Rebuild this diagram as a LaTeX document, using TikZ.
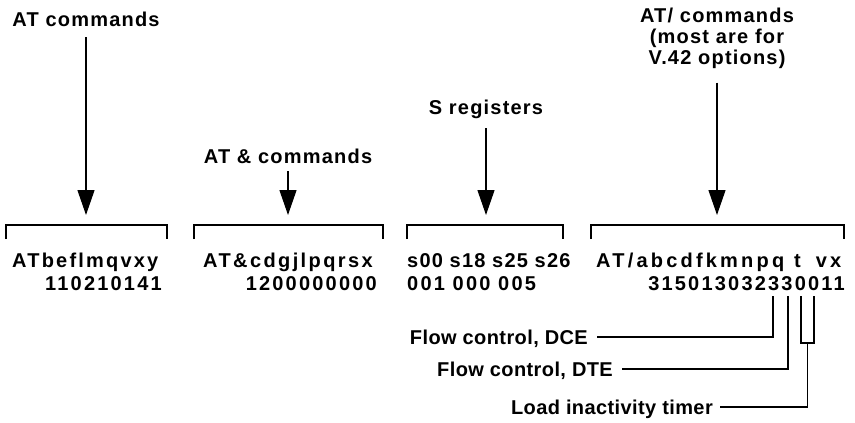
\documentclass[tikz,border=0pt]{standalone}
\usepackage{fontspec}
\setmainfont{Liberation Sans}
\usetikzlibrary{arrows.meta}

\tikzset{
  lbl/.style={font=\fontsize{20}{21}\selectfont\bfseries\addfontfeature{LetterSpace=6},
              inner sep=0pt, align=center},
  reg/.style={font=\fontsize{20}{21}\selectfont\bfseries\addfontfeature{LetterSpace=#1},
              inner sep=0pt},
  reg/.default=11,
  note/.style={font=\fontsize{20}{21}\selectfont\bfseries\addfontfeature{LetterSpace=2},
               inner sep=0pt, text height=14pt, text depth=0pt},
  arr/.style={->, line width=1.2pt},
  brk/.style={line width=1.1pt},
  ldr/.style={line width=1.1pt}
}

\begin{document}
\begin{tikzpicture}[x=1pt,y=-1pt,>={Triangle[length=25pt,width=17pt]}]
        \useasboundingbox (0,0) rectangle (855,423);

        % the four headings
        \node[lbl,anchor=base] (atcmd) at (86,27) {AT commands};
        \node[lbl,anchor=base] (ampcmd) at (288,163) {AT \& commands};
        \node[lbl,anchor=base] (sreg) at (486,114) {S registers};
        \node[lbl,anchor=north] (slcmd) at (717,7.5) {AT/ commands\\(most are for\\V.42 options)};

        % the tips of the arrows, just above the brackets
        \coordinate (tip1) at (86,215);
        \coordinate (tip2) at (288,215);
        \coordinate (tip3) at (486,215);
        \coordinate (tip4) at (717,215);

        \draw[arr] ([yshift=-10pt]atcmd.south) -- (tip1);
        \draw[arr] ([yshift=-8pt]ampcmd.south) -- (tip2);
        \draw[arr] ([yshift=-10pt]sreg.south) -- (tip3);
        \draw[arr] ([yshift=-14pt]slcmd.south) -- (tip4);

        % the brackets over each group
        \foreach \l/\r in {6/167,194/383,407/563,591/844}
                \draw[brk] (\l,239) |- (\r,225) -- (\r,239);

        % the settings, names above and values below
        \node[reg,anchor=base west] (names1) at (12,267) {ATbeflmqvxy};
        \node[reg,anchor=base east] (vals1) at (162,290) {110210141};
        \node[reg=12,anchor=base west] (names2) at (203,267) {AT\&cdgjlpqrsx};
        \node[reg,anchor=base east] (vals2) at (377,290) {1200000000};
        \node[reg=6,anchor=base west] (names3) at (407,267) {s00 s18 s25 s26};
        \node[reg,anchor=base west] (vals3) at (407,290) {001 000 005};
        \node[reg=16,anchor=base west] (names4) at (596,267) {AT/abcdfkmnpq\hspace{10pt}t\hspace{15pt}vx};
        \node[reg,anchor=base east] (vals4) at (845,290) {315013032330011};

        % the notes on the last group
        \node[note,anchor=east] (ndce) at (588,337) {Flow control, DCE};
        \node[note,anchor=east] (ndte) at (613,369) {Flow control, DTE};
        \node[note,anchor=east] (nload) at (713,407) {Load inactivity timer};

        \coordinate (dce) at (773,296);
        \coordinate (dte) at (788,296);
        \coordinate (tl) at (801,296);
        \coordinate (tr) at (814,296);
        \coordinate (tmid) at (807.5,343);

        \draw[ldr] (dce) |- ([xshift=9pt]ndce.east);
        \draw[ldr] (dte) |- ([xshift=9pt]ndte.east);
        \draw[ldr] (tl) |- (tr |- tmid) -- (tr);
        \draw[ldr] (tmid) |- ([xshift=7pt]nload.east);
\end{tikzpicture}
\end{document}
